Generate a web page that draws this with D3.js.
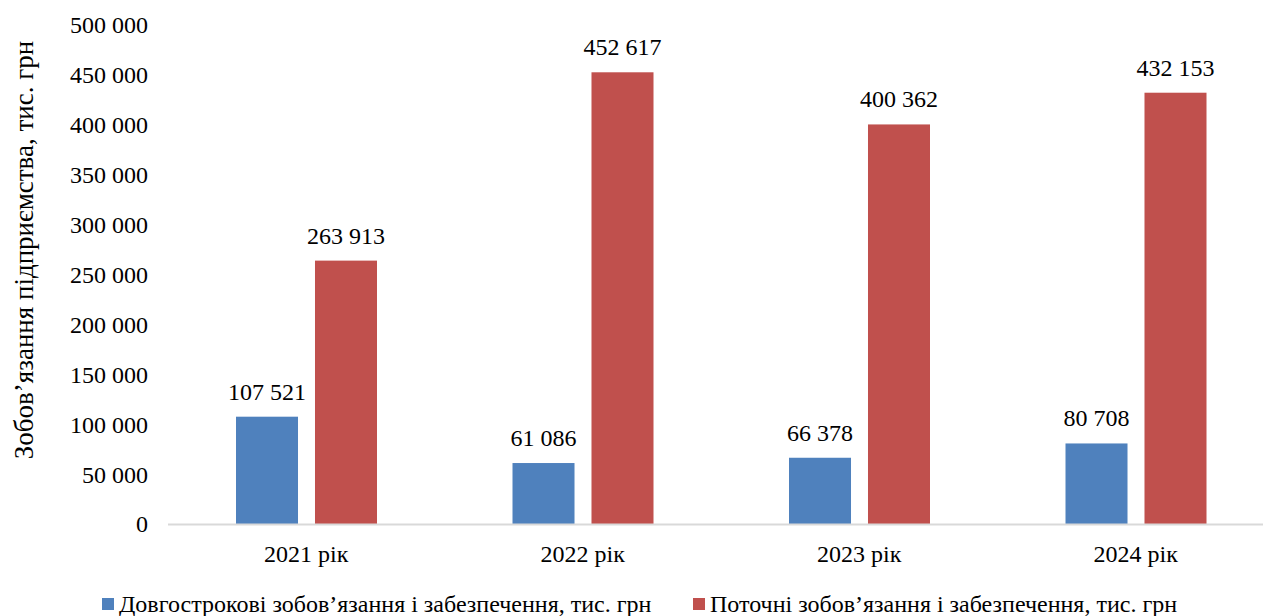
<!DOCTYPE html>
<html>
<head>
<meta charset="utf-8">
<script src="https://cdn.jsdelivr.net/npm/d3@7"></script>
<style>
  body { margin: 0; background: #fff; }
  svg, svg text { font-family: "Liberation Serif", "Times New Roman", "DejaVu Serif", serif !important; }
</style>
</head>
<body>
<script>
'use strict';

// chart data
const years = ["2021 рік", "2022 рік", "2023 рік", "2024 рік"];
const longTerm = [107521, 61086, 66378, 80708];
const current = [263913, 452617, 400362, 432153];
const seriesNames = ["Довгострокові зобов’язання і забезпечення, тис. грн",
                     "Поточні зобов’язання і забезпечення, тис. грн"];
const seriesColors = ["#4F81BD", "#C0504D"];
const yTicks = [0, 50000, 100000, 150000, 200000, 250000, 300000, 350000, 400000, 450000, 500000];
const yTitle = "Зобов’язання підприємства, тис. грн";

const width = 1264, height = 616;

const svg = d3.select("body").append("svg")
  .attr("width", width)
  .attr("height", height);

// numbers with a space as the thousands separator
const fmt = d3.formatLocale({ decimal: ",", thousands: " ", grouping: [3], currency: ["", ""] }).format(",d");

// scales
const xScale = d3.scaleBand()
  .domain(years)
  .range([168, 1274]);

const yScale = d3.scaleLinear()
  .domain([0, 500000])
  .range([524, 25]);

// position of the two bars inside one category
const xInner = d3.scaleBand()
  .domain([0, 1])
  .range([68, 209])
  .paddingInner(0.215);

// y axis (labels only)
const yAxis = d3.axisLeft(yScale)
  .tickValues(yTicks)
  .tickFormat(fmt)
  .tickSize(0)
  .tickPadding(0);

svg.append("g")
  .attr("transform", "translate(148,0)")
  .call(yAxis)
  .attr("font-family", null)
  .attr("font-size", 24)
  .call(g => g.select(".domain").remove())
  .selectAll("text")
  .attr("dy", "0.33em")
  .attr("fill", "#000");

// bars
const rows = years.map((y, i) => ({ year: y, values: [longTerm[i], current[i]] }));

const groups = svg.selectAll(".grp")
  .data(rows)
  .enter()
  .append("g")
  .attr("class", "grp")
  .attr("transform", d => "translate(" + xScale(d.year) + ",0)");

groups.selectAll("rect")
  .data(d => d.values.map((v, k) => ({ k: k, v: v })))
  .enter()
  .append("rect")
  .attr("x", d => xInner(d.k))
  .attr("width", xInner.bandwidth())
  .attr("y", d => yScale(d.v))
  .attr("height", d => yScale(0) - yScale(d.v))
  .attr("fill", d => seriesColors[d.k]);

groups.selectAll("text.val")
  .data(d => d.values.map((v, k) => ({ k: k, v: v })))
  .enter()
  .append("text")
  .attr("class", "val")
  .attr("x", d => xInner(d.k) + xInner.bandwidth() / 2)
  .attr("y", d => yScale(d.v) - 17)
  .attr("text-anchor", "middle")
  .attr("font-size", 24)
  .attr("fill", "#000")
  .text(d => fmt(d.v));

// x axis line
svg.append("line")
  .attr("x1", 168)
  .attr("x2", 1263)
  .attr("y1", yScale(0) + 0.5)
  .attr("y2", yScale(0) + 0.5)
  .attr("stroke", "#d9d9d9")
  .attr("stroke-width", 2);

// category labels
const xAxis = d3.axisBottom(xScale).tickSize(0).tickPadding(0);
svg.append("g")
  .attr("transform", "translate(0,562)")
  .call(xAxis)
  .attr("font-family", null)
  .attr("font-size", 24)
  .call(g => g.select(".domain").remove())
  .selectAll("text")
  .attr("dy", 0)
  .attr("fill", "#000");

// y axis title
svg.append("text")
  .attr("transform", "translate(33,250)rotate(-90)")
  .attr("text-anchor", "middle")
  .attr("font-size", 27)
  .attr("fill", "#000")
  .text(yTitle);

// legend
const legendX = [102, 693];
seriesNames.forEach((name, i) => {
  svg.append("rect")
    .attr("x", legendX[i])
    .attr("y", 598)
    .attr("width", 12)
    .attr("height", 12)
    .attr("fill", seriesColors[i]);
  svg.append("text")
    .attr("x", legendX[i] + 17)
    .attr("y", 612)
    .attr("font-size", 24)
    .attr("fill", "#000")
    .text(name);
});
</script>
</body>
</html>
